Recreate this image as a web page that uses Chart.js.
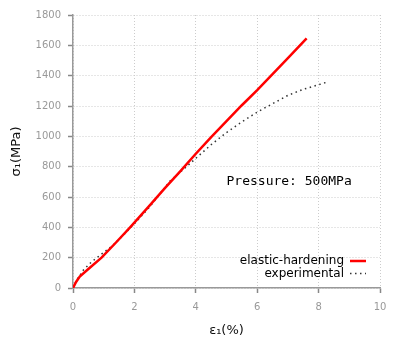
<!DOCTYPE html>
<html>
<head>
<meta charset="utf-8">
<script src="https://cdn.jsdelivr.net/npm/chart.js@4.4.1/dist/chart.umd.min.js"></script>
<style>
html,body{margin:0;padding:0;background:#fff;}
#wrap{width:400px;height:356px;position:relative;}
</style>
</head>
<body>
<div id="wrap"><canvas id="c" width="400" height="356"></canvas></div>
<script>
// Data
const modelStrain = [0, 0.1, 0.22, 0.5, 0.93, 1.4, 1.86, 2.5, 3.0, 3.5, 4.0, 4.5, 5.0, 5.5, 6.0, 6.5, 7.0, 7.61];
const modelStress = [0, 40, 75, 125, 200, 300, 400, 545, 660, 770, 885, 995, 1100, 1205, 1305, 1410, 1515, 1646];
const expStrain = [0, 0.12, 0.34, 0.61, 0.99, 1.31, 1.64, 1.96, 2.5, 3.16, 3.7, 4.0, 4.5, 5.0, 5.5, 6.0, 6.5, 7.0, 7.5, 8.0, 8.32];
const expStress = [0, 53, 119, 173, 233, 283, 349, 415, 535, 705, 800, 855, 945, 1025, 1095, 1160, 1215, 1270, 1310, 1340, 1360];
const xTicks = [0, 2, 4, 6, 8, 10];
const yTicks = [0, 200, 400, 600, 800, 1000, 1200, 1400, 1600, 1800];
const seriesLabels = ['elastic-hardening', 'experimental'];
const annotationText = 'Pressure: 500MPa';
const xTitle = 'ε\u2081(%)';
const yTitle = 'σ\u2081(MPa)';

const modelPts = modelStrain.map((x, i) => ({x: x, y: modelStress[i]}));
const expPts = expStrain.map((x, i) => ({x: x, y: expStress[i]}));

const legendPlugin = {
  id: 'insideLegend',
  afterDatasetsDraw(chart) {
    const ctx = chart.ctx;
    const ca = chart.chartArea;
    ctx.save();
    const xs = chart.scales.x, ys = chart.scales.y;
    ctx.font = '13px "DejaVu Sans Mono", monospace';
    ctx.fillStyle = '#000';
    ctx.textAlign = 'left';
    ctx.textBaseline = 'middle';
    ctx.fillText(annotationText, xs.getPixelForValue(5.0), ys.getPixelForValue(700));
    ctx.font = '12px "DejaVu Sans", sans-serif';
    ctx.textAlign = 'right';
    const textRight = ca.right - 36;
    const rows = [ca.bottom - 27, ca.bottom - 14.5];
    chart.data.datasets.forEach((ds, i) => {
      const y = rows[i];
      ctx.fillStyle = '#000';
      ctx.fillText(ds.label, textRight, y);
      ctx.beginPath();
      ctx.strokeStyle = ds.borderColor;
      ctx.lineWidth = ds.borderWidth;
      ctx.setLineDash(ds.borderDash || []);
      ctx.moveTo(textRight + 6, y);
      ctx.lineTo(textRight + 22, y);
      ctx.stroke();
      ctx.setLineDash([]);
    });
    ctx.restore();
  }
};

new Chart(document.getElementById('c'), {
  type: 'scatter',
  data: {
    datasets: [
      {label: seriesLabels[0], data: modelPts, showLine: true, borderColor: '#ff0000', borderWidth: 2.5, pointRadius: 0, tension: 0, fill: false, order: 1},
      {label: seriesLabels[1], data: expPts, showLine: true, borderColor: '#333333', borderWidth: 1.5, borderDash: [1.5, 3.5], pointRadius: 0, tension: 0, fill: false, order: 2}
    ]
  },
  options: {
    responsive: false,
    animation: false,
    devicePixelRatio: 1,
    layout: {padding: {left: 5, top: 15, right: 20, bottom: 14}},
    plugins: {legend: {display: false}, tooltip: {enabled: false}},
    scales: {
      x: {
        type: 'linear', min: 0, max: 10,
        afterBuildTicks(s) { s.ticks = xTicks.map(v => ({value: v})); },
        afterFit(s) { s.height = 54; },
        ticks: {color: '#999', font: {family: 'DejaVu Sans', size: 10}, padding: 8, callback: v => String(v)},
        grid: {color: '#cccccc', lineWidth: 1, tickLength: 5, tickColor: '#888', tickBorderDash: [], tickWidth: 1.5, drawTicks: true},
        border: {display: true, color: '#999', width: 1.5, dash: [1, 2]},
        title: {display: true, text: xTitle, color: '#111', font: {family: 'DejaVu Sans', size: 13}}
      },
      y: {
        type: 'linear', min: 0, max: 1800,
        afterBuildTicks(s) { s.ticks = yTicks.map(v => ({value: v})); },
        afterFit(s) { s.width = 68; },
        ticks: {color: '#999', font: {family: 'DejaVu Sans', size: 10}, padding: 7, callback: v => String(v)},
        grid: {color: '#cccccc', lineWidth: 1, tickLength: 5, tickColor: '#888', tickBorderDash: [], tickWidth: 1.5},
        border: {display: true, color: '#999', width: 1.5, dash: [1, 2]},
        title: {display: true, text: yTitle, color: '#111', font: {family: 'DejaVu Sans', size: 13}}
      }
    }
  },
  plugins: [legendPlugin]
});
</script>
</body>
</html>
